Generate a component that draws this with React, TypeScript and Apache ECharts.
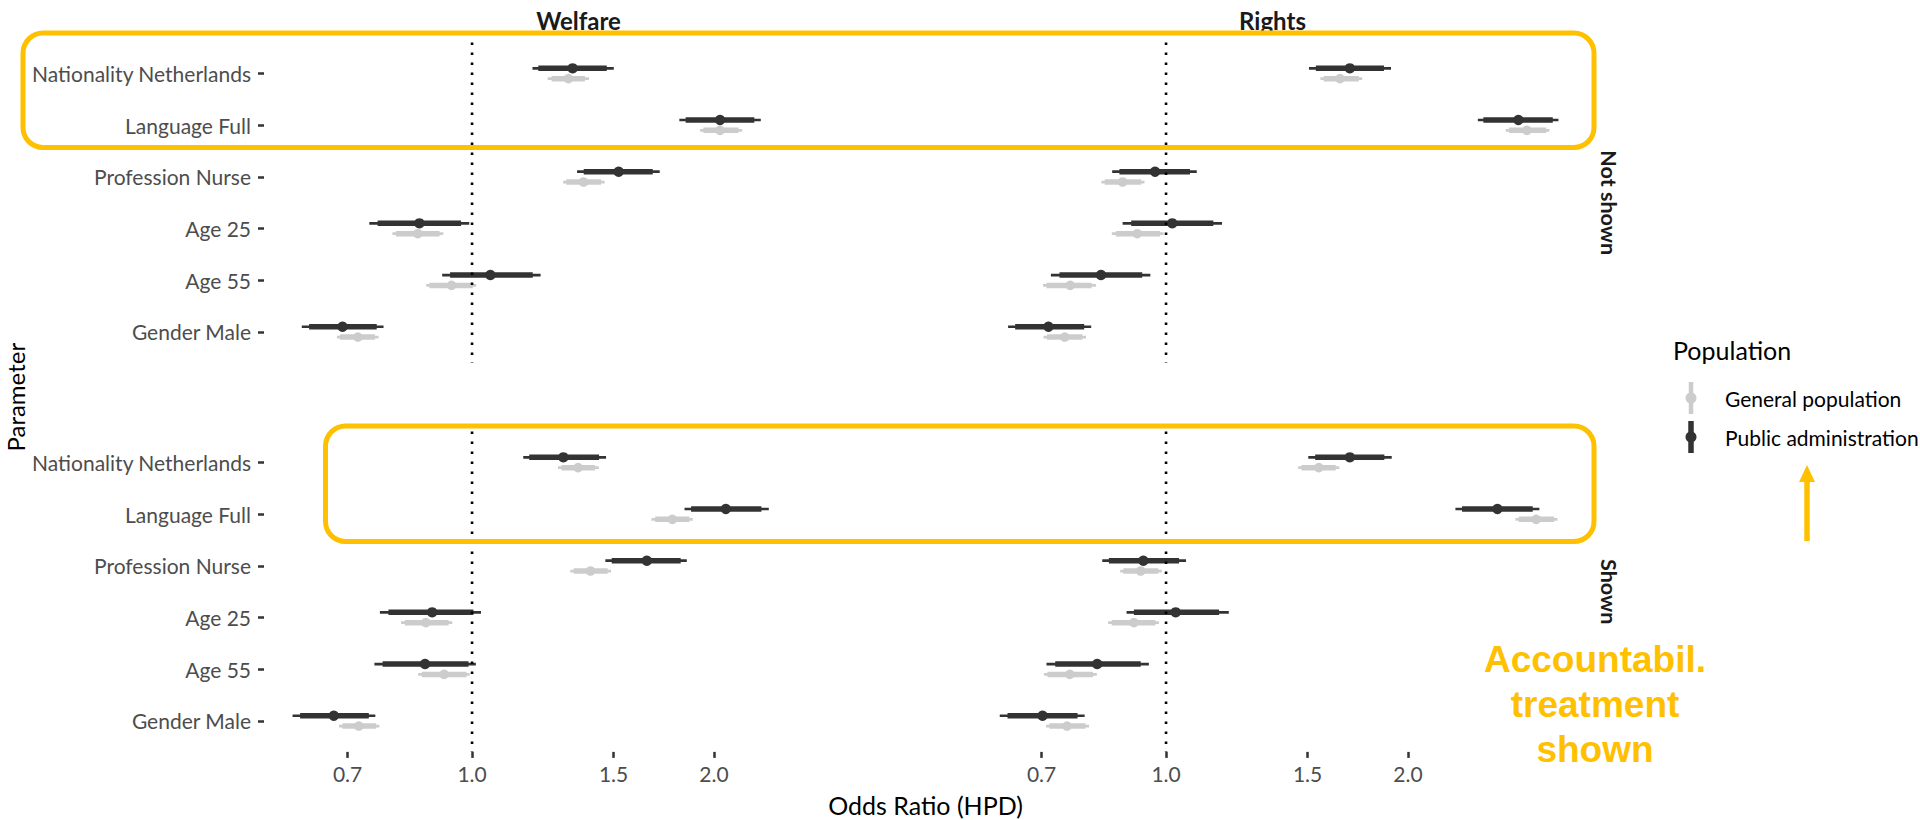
import React, { useEffect, useRef } from "react";
import * as echarts from "echarts";

// ---------- data ----------
const parameters = [
  "Nationality Netherlands",
  "Language Full",
  "Profession Nurse",
  "Age 25",
  "Age 55",
  "Gender Male",
];
const domains = ["Welfare", "Rights"];
const conditions = ["Not shown", "Shown"];
const populations = ["General population", "Public administration"];
const xTickValues = [0.7, 1.0, 1.5, 2.0];
const xLimits = [0.551, 3.34]; // odds-ratio axis limits
const referenceOR = 1.0;

// each row: [estimate, lo66, hi66, lo95, hi95] (odds ratios)
const welfareNotShownPA = [
  [1.334, 1.209, 1.471, 1.189, 1.501],
  [2.035, 1.844, 2.245, 1.811, 2.287],
  [1.522, 1.377, 1.678, 1.351, 1.712],
  [0.86, 0.763, 0.969, 0.745, 0.992],
  [1.054, 0.939, 1.19, 0.918, 1.217],
  [0.69, 0.627, 0.761, 0.614, 0.776],
];
const welfareNotShownGP = [
  [1.318, 1.256, 1.382, 1.242, 1.398],
  [2.035, 1.94, 2.145, 1.922, 2.168],
  [1.376, 1.31, 1.447, 1.298, 1.462],
  [0.856, 0.804, 0.911, 0.796, 0.921],
  [0.943, 0.885, 1.002, 0.877, 1.012],
  [0.721, 0.685, 0.757, 0.679, 0.765],
];
const welfareShownPA = [
  [1.299, 1.178, 1.439, 1.158, 1.468],
  [2.069, 1.873, 2.291, 1.838, 2.34],
  [1.65, 1.492, 1.818, 1.465, 1.85],
  [0.892, 0.787, 1.004, 0.768, 1.026],
  [0.874, 0.774, 0.99, 0.756, 1.011],
  [0.673, 0.611, 0.744, 0.598, 0.758],
];
const welfareShownGP = [
  [1.355, 1.292, 1.422, 1.279, 1.438],
  [1.775, 1.69, 1.864, 1.672, 1.882],
  [1.404, 1.338, 1.475, 1.325, 1.489],
  [0.876, 0.825, 0.935, 0.816, 0.945],
  [0.923, 0.866, 0.984, 0.857, 0.993],
  [0.723, 0.69, 0.76, 0.683, 0.767],
];
const rightsNotShownPA = [
  [1.693, 1.536, 1.867, 1.506, 1.905],
  [2.744, 2.482, 3.028, 2.443, 3.078],
  [0.969, 0.875, 1.071, 0.857, 1.092],
  [1.018, 0.905, 1.145, 0.883, 1.174],
  [0.83, 0.737, 0.934, 0.719, 0.956],
  [0.714, 0.649, 0.791, 0.636, 0.807],
];
const rightsNotShownGP = [
  [1.646, 1.571, 1.737, 1.556, 1.754],
  [2.811, 2.672, 2.971, 2.647, 2.999],
  [0.883, 0.839, 0.931, 0.831, 0.94],
  [0.921, 0.866, 0.983, 0.856, 0.993],
  [0.76, 0.71, 0.808, 0.703, 0.818],
  [0.748, 0.711, 0.787, 0.704, 0.795],
];
const rightsShownPA = [
  [1.693, 1.533, 1.869, 1.503, 1.909],
  [2.584, 2.335, 2.859, 2.291, 2.914],
  [0.937, 0.849, 1.038, 0.833, 1.059],
  [1.028, 0.912, 1.164, 0.893, 1.197],
  [0.821, 0.728, 0.93, 0.71, 0.952],
  [0.702, 0.635, 0.776, 0.621, 0.792],
];
const rightsShownGP = [
  [1.549, 1.474, 1.626, 1.46, 1.643],
  [2.887, 2.747, 3.04, 2.721, 3.069],
  [0.93, 0.885, 0.978, 0.877, 0.988],
  [0.912, 0.856, 0.97, 0.847, 0.98],
  [0.759, 0.712, 0.811, 0.705, 0.82],
  [0.753, 0.716, 0.794, 0.709, 0.802],
];

// ---------- styling / layout ----------
const FONT = "Lato, 'Noto Sans', sans-serif";
const COLORS: Record<string, string> = {
  "General population": "#cccccc",
  "Public administration": "#333333",
};
const YELLOW = "#FFC000";
const panelLeft = [264, 958];
const panelTop = [42.5, 431.5];
const panelW = 629;
const panelH = 320.4;
const dodge = 0.1;

const panels = [
  { d: 0, c: 0, GP: welfareNotShownGP, PA: welfareNotShownPA },
  { d: 1, c: 0, GP: rightsNotShownGP, PA: rightsNotShownPA },
  { d: 0, c: 1, GP: welfareShownGP, PA: welfareShownPA },
  { d: 1, c: 1, GP: rightsShownGP, PA: rightsShownPA },
];

function buildOption() {
  const grid: any[] = [];
  const xAxis: any[] = [];
  const yAxis: any[] = [];
  const series: any[] = [];

  panels.forEach((p, k) => {
    const isBottom = p.c === 1;
    const isLeft = p.d === 0;
    grid.push({
      left: panelLeft[p.d],
      top: panelTop[p.c],
      width: panelW,
      height: panelH,
      containLabel: false,
    });
    xAxis.push({
      type: "value",
      gridIndex: k,
      position: "bottom",
      min: Math.log(xLimits[0]),
      max: Math.log(xLimits[1]),
      axisLine: { show: false, onZero: false },
      splitLine: { show: false },
      axisTick: {
        show: isBottom,
        customValues: xTickValues.map((v) => Math.log(v)),
        length: 6,
        lineStyle: { color: "#333333", width: 2.5 },
      },
      axisLabel: {
        show: isBottom,
        customValues: xTickValues.map((v) => Math.log(v)),
        formatter: (v: number) => Math.exp(v).toFixed(1),
        margin: 11,
        color: "#4d4d4d",
        fontFamily: FONT,
        fontSize: 21,
      },
    });
    yAxis.push({
      type: "value",
      gridIndex: k,
      position: "left",
      min: 0.4,
      max: 6.6,
      inverse: true,
      axisLine: { show: false, onZero: false },
      splitLine: { show: false },
      axisTick: {
        show: isLeft,
        customValues: parameters.map((_, i) => i + 1),
        length: 6,
        lineStyle: { color: "#333333", width: 2.5 },
      },
      axisLabel: {
        show: isLeft,
        customValues: parameters.map((_, i) => i + 1),
        formatter: (v: number) => parameters[Math.round(v) - 1] || "",
        margin: 13,
        color: "#4d4d4d",
        fontFamily: FONT,
        fontSize: 21,
      },
    });

    const addPop = (name: string, rows: number[][], offset: number, r: number) => {
      const color = COLORS[name];
      series.push({
        type: "custom",
        name,
        xAxisIndex: k,
        yAxisIndex: k,
        silent: true,
        itemStyle: { color },
        encode: { x: [0, 1, 2, 3, 4], y: 5 },
        data: rows.map((row, i) => [...row.map((v) => Math.log(v)), i + 1 + offset]),
        renderItem: (_params: any, api: any) => {
          const y = api.value(5);
          const pe = api.coord([api.value(0), y]);
          const a66 = api.coord([api.value(1), y]);
          const b66 = api.coord([api.value(2), y]);
          const a95 = api.coord([api.value(3), y]);
          const b95 = api.coord([api.value(4), y]);
          return {
            type: "group",
            children: [
              {
                type: "line",
                shape: { x1: a95[0], y1: a95[1], x2: b95[0], y2: b95[1] },
                style: { stroke: color, lineWidth: 2.7 },
              },
              {
                type: "line",
                shape: { x1: a66[0], y1: a66[1], x2: b66[0], y2: b66[1] },
                style: { stroke: color, lineWidth: 5.5 },
              },
              {
                type: "circle",
                shape: { cx: pe[0], cy: pe[1], r },
                style: { fill: color },
              },
            ],
          };
        },
        z: 2,
      });
    };
    addPop(populations[0], p.GP, dodge, 4.8);
    addPop(populations[1], p.PA, -dodge, 5.2);

    series.push({
      type: "line",
      name: "reference",
      xAxisIndex: k,
      yAxisIndex: k,
      silent: true,
      symbol: "none",
      data: [
        [Math.log(referenceOR), 0.4],
        [Math.log(referenceOR), 6.6],
      ],
      lineStyle: { color: "#000000", width: 2.6, type: [2.6, 7.4] },
      z: 4,
    });
  });

  const txt = (text: string, x: number, y: number, extra: any = {}, style: any = {}) => ({
    type: "text",
    x,
    y,
    silent: true,
    ...extra,
    style: {
      text,
      fill: "#000000",
      fontFamily: FONT,
      fontSize: 25,
      align: "center",
      verticalAlign: "middle",
      ...style,
    },
  });

  const stripStyle = { fontWeight: "bold", fontSize: 24, fill: "#1a1a1a" };
  const stripSideStyle = { fontWeight: "bold", fontSize: 21.5, fill: "#1a1a1a" };

  // legend (drawn as point-interval keys)
  const legendX = 1691;
  const legendY = [398, 437];
  const legendGraphics: any[] = [];
  populations.forEach((name, i) => {
    const color = COLORS[name];
    legendGraphics.push(
      {
        type: "line",
        silent: true,
        shape: { x1: legendX, y1: legendY[i] - 16, x2: legendX, y2: legendY[i] + 16 },
        style: { stroke: color, lineWidth: i === 0 ? 4.5 : 5.5 },
      },
      {
        type: "circle",
        silent: true,
        shape: { cx: legendX, cy: legendY[i], r: 5.5 },
        style: { fill: color },
      },
      txt(name, 1725, legendY[i], {}, { align: "left", fontSize: 21 })
    );
  });

  const graphic: any[] = [
    // facet strips
    txt(domains[0], panelLeft[0] + panelW / 2, 20, {}, stripStyle),
    txt(domains[1], panelLeft[1] + panelW / 2, 20, {}, stripStyle),
    txt(conditions[0], 1609, panelTop[0] + panelH / 2, { rotation: -Math.PI / 2 }, stripSideStyle),
    txt(conditions[1], 1609, panelTop[1] + panelH / 2, { rotation: -Math.PI / 2 }, stripSideStyle),
    // axis titles
    txt("Odds Ratio (HPD)", (panelLeft[0] + panelLeft[1] + panelW) / 2, 805),
    txt("Parameter", 15, (panelTop[0] + panelTop[1] + panelH) / 2, { rotation: Math.PI / 2 }, { fontSize: 24 }),
    // legend title
    txt("Population", 1673, 350, {}, { align: "left" }),
    ...legendGraphics,
    // highlight boxes
    {
      type: "rect",
      silent: true,
      z: 10,
      shape: { x: 23, y: 33, width: 1571, height: 114.5, r: 20 },
      style: { fill: "none", stroke: YELLOW, lineWidth: 5 },
    },
    {
      type: "rect",
      silent: true,
      z: 10,
      shape: { x: 325.5, y: 426, width: 1268.5, height: 115.5, r: 20 },
      style: { fill: "none", stroke: YELLOW, lineWidth: 5 },
    },
    // arrow
    {
      type: "line",
      silent: true,
      shape: { x1: 1807, y1: 541, x2: 1807, y2: 478 },
      style: { stroke: YELLOW, lineWidth: 5.5 },
    },
    {
      type: "polygon",
      silent: true,
      shape: { points: [[1807, 465], [1799, 482], [1815, 482]] },
      style: { fill: YELLOW },
    },
    txt("Accountabil.\ntreatment\nshown", 1595, 704, {}, {
      fontFamily: "'Liberation Sans', Arial, sans-serif",
      fontWeight: "bold",
      fontSize: 37,
      lineHeight: 45,
      fill: YELLOW,
    }),
  ];

  return {
    animation: false,
    backgroundColor: "#ffffff",
    grid,
    xAxis,
    yAxis,
    series,
    graphic,
  };
}

export default function App() {
  const ref = useRef<HTMLDivElement>(null);
  useEffect(() => {
    if (!ref.current) return;
    const chart = echarts.init(ref.current, undefined, { renderer: "svg" });
    chart.setOption(buildOption() as any);
    return () => chart.dispose();
  }, []);
  return (
    <div
      ref={ref}
      style={{ position: "fixed", left: 0, top: 0, width: 1920, height: 820, background: "#fff" }}
    />
  );
}
